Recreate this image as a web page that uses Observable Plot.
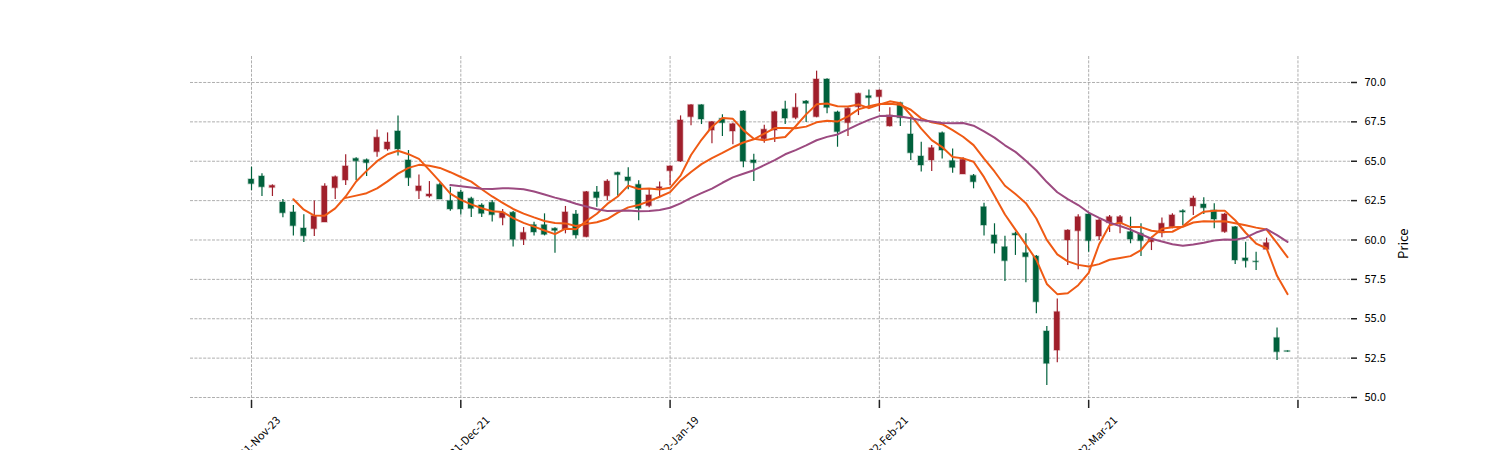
<!DOCTYPE html>
<html><head><meta charset="utf-8">
<script src="https://cdn.jsdelivr.net/npm/d3@7"></script>
<script src="https://cdn.jsdelivr.net/npm/@observablehq/plot@0.6"></script>
<style>body{margin:0;background:#fff} #chart svg{display:block}</style>
</head><body><div id="chart"></div>
<script>
const opens = [63.84,64.03,63.31,62.38,61.75,60.73,60.69,61.11,63.29,63.78,
65.15,65.07,65.58,65.75,66.89,65.05,63.10,62.76,63.50,62.47,
63.02,62.61,62.19,62.36,61.39,61.73,60.01,60.94,60.94,60.71,
60.67,61.62,60.18,63.02,62.78,64.26,63.97,63.50,62.15,63.25,
64.37,64.98,67.80,68.56,66.95,67.69,66.89,68.16,65.05,66.40,
66.95,68.29,67.74,68.79,67.80,70.19,68.10,67.42,68.43,69.13,
69.07,67.21,68.69,66.70,65.30,65.05,66.78,65.01,64.16,64.07,
62.08,60.29,59.54,60.39,59.16,58.95,54.19,52.98,59.97,60.56,
61.62,60.22,61.07,61.03,60.50,60.39,59.86,60.43,60.81,61.83,
62.13,62.25,61.87,60.50,60.81,58.83,58.63,59.38,53.77,52.94];
const highs = [64.62,64.20,63.50,62.57,62.19,61.60,62.47,63.57,64.07,65.41,
65.22,65.15,66.99,66.80,67.88,65.68,64.12,63.71,63.60,63.35,
63.14,62.72,62.30,62.51,61.94,61.81,60.79,61.13,61.66,60.77,
62.13,61.87,63.08,63.40,63.82,64.30,64.58,63.76,63.21,63.69,
64.71,67.88,68.58,68.58,67.53,67.95,67.42,68.20,65.45,67.29,
68.18,68.81,69.28,68.86,70.72,70.23,68.18,68.39,69.32,69.53,
69.53,68.39,68.75,67.80,66.21,66.00,66.85,65.77,65.22,64.16,
62.34,61.03,60.24,60.50,60.39,59.02,54.51,56.26,60.65,61.60,
61.66,61.34,61.56,61.56,61.45,61.03,60.18,61.39,61.66,61.92,
62.78,62.68,62.30,61.70,60.86,59.86,59.23,60.12,54.42,52.96];
const lows = [63.14,62.76,62.76,61.41,60.26,59.84,60.22,61.11,62.57,63.46,
63.78,64.03,65.26,65.64,65.34,63.40,62.57,62.66,62.57,61.83,
61.58,61.43,61.43,61.15,60.90,59.55,59.65,60.26,60.26,59.16,
60.39,60.07,60.14,62.08,62.47,62.78,63.19,61.22,62.04,62.72,
63.46,64.92,67.25,67.33,66.11,66.57,66.04,64.58,63.71,66.15,
66.19,67.33,67.63,67.46,67.76,68.01,65.89,66.57,67.90,68.43,
68.12,67.17,67.21,65.05,64.31,64.35,65.15,64.24,64.16,63.25,
60.26,59.12,57.37,59.02,57.28,55.31,50.76,52.20,58.38,58.11,
59.23,59.97,60.48,60.39,59.76,58.95,59.33,60.14,60.71,60.92,
61.56,61.62,60.71,60.43,58.44,58.23,58.06,59.38,52.35,52.88];
const closes = [63.55,63.35,63.44,61.70,60.88,60.24,61.51,63.40,63.99,64.67,
65.00,64.88,66.49,66.19,65.75,63.93,63.40,62.89,62.57,61.94,
61.94,61.98,61.66,61.58,61.73,60.01,60.45,60.48,60.33,60.58,
61.75,60.29,63.04,62.66,63.71,64.12,63.74,61.98,62.83,63.35,
64.67,67.59,68.56,67.65,67.48,67.42,67.35,64.98,64.88,67.00,
68.12,67.71,68.39,68.65,70.19,68.39,66.85,68.33,69.28,69.01,
69.49,67.90,67.74,65.51,64.73,65.83,65.68,64.58,65.09,63.67,
60.92,59.76,58.66,60.29,58.91,56.05,52.14,55.42,60.60,61.45,
59.93,61.24,61.45,61.45,60.03,59.93,60.07,61.03,61.56,61.75,
62.63,62.02,61.30,61.62,58.70,58.66,58.59,59.80,52.88,52.90];

const tickIndex = [0, 20, 40, 60, 80, 100];
const tickLabels = ["2021-Nov-23", "2021-Dec-21", "2022-Jan-19", "2022-Feb-21", "2022-Mar-21"];
const yTicks = [50, 52.5, 55, 57.5, 60, 62.5, 65, 67.5, 70];
const maPeriods = [5, 10, 20];
const maColors = ["#ef5a14", "#ef5a14", "#9c4a80"];
const upColor = "#a01f2b";
const downColor = "#00613c";

const bars = closes.map((c, i) => ({
  i, open: opens[i], high: highs[i], low: lows[i], close: c, up: c >= opens[i]
}));
const labelData = tickLabels.map((t, k) => ({pos: tickIndex[k], text: t}));

const gridStyle = {stroke: "#9a9a9a", strokeOpacity: 1, strokeDasharray: "3,1.4", strokeWidth: 0.8};

const chart = Plot.plot({
  width: 1500, height: 450,
  marginLeft: 190, marginRight: 150, marginTop: 56, marginBottom: 50,
  style: {fontFamily: "'Noto Sans CJK SC', 'DejaVu Sans', sans-serif", fontSize: "11px", color: "#000", background: "#fff"},
  x: {type: "linear", domain: [-5.83, 105.02]},
  y: {domain: [49.81, 71.65]},
  marks: [
    Plot.gridX(tickIndex, gridStyle),
    Plot.gridY(yTicks, gridStyle),
    Plot.axisX({ticks: tickIndex, tickSize: 8, tickFormat: () => "", stroke: "#222", strokeWidth: 1.5}),
    Plot.text(labelData, {x: "pos", text: "text", frameAnchor: "bottom", rotate: -45, textAnchor: "end", lineAnchor: "top", dx: 24, dy: 15, fontSize: 11, fill: "#000"}),
    Plot.axisY({anchor: "right", ticks: yTicks, tickFormat: d => d.toFixed(1), tickSize: 6, tickPadding: 8, label: null, stroke: "#222", strokeWidth: 1.5}),
    Plot.text(["Price"], {frameAnchor: "right", dx: 53, rotate: -90, fontSize: 13, fill: "#000"}),
    Plot.ruleX(bars, {x: "i", y1: "low", y2: "high", stroke: d => d.up ? upColor : downColor, strokeWidth: 1.2}),
    Plot.rect(bars, {x1: d => d.i - 0.26, x2: d => d.i + 0.26, y1: "open", y2: "close",
      fill: d => d.up ? upColor : downColor, stroke: d => d.up ? upColor : downColor, strokeOpacity: 0.3, strokeWidth: 1.5}),
    ...maPeriods.map((k, j) => Plot.lineY(bars, Plot.windowY({k, anchor: "end", strict: true}, {x: "i", y: "close", stroke: maColors[j], strokeWidth: 2})))
  ]
});
document.getElementById("chart").append(chart);
</script>
</body></html>
